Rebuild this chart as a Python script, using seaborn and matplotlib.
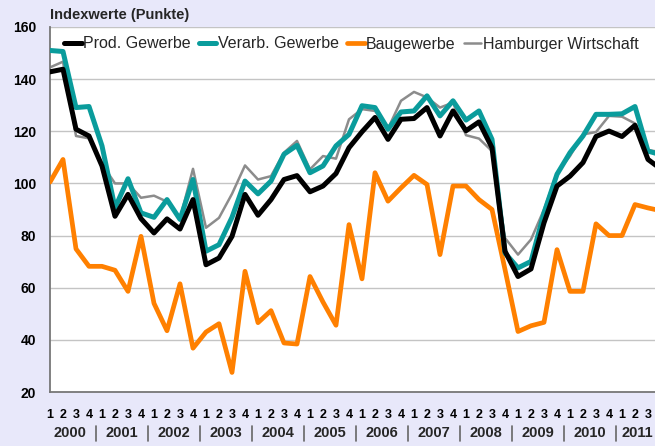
import matplotlib
matplotlib.use("Agg")
import matplotlib.pyplot as plt
import matplotlib.transforms as mtransforms
import pandas as pd
import seaborn as sns

# Quartale 2000 Q1 .. 2011 Q4 (rechter Rand ist im Original abgeschnitten)
quarters = ["1", "2", "3", "4"] * 11 + ["1", "2", "3"]
years = [str(y) for y in range(2000, 2012)]

prod_gewerbe = [142.8, 143.8, 120.8, 118.2, 106.7, 87.4, 95.8, 86.5, 81.0, 86.4, 82.5, 93.8,
                68.8, 71.4, 79.7, 95.8, 87.8, 93.8, 101.5, 103.0, 96.8, 99.0, 103.8, 113.7,
                119.8, 125.3, 116.9, 124.6, 124.9, 129.1, 118.2, 127.8, 120.2, 123.6, 113.7, 74.0,
                64.3, 67.2, 84.9, 99.0, 102.8, 108.0, 118.0, 120.1, 118.0, 122.3, 109.2, 105.5]
verarb_gewerbe = [151.0, 150.6, 129.1, 129.5, 114.4, 90.6, 101.8, 88.7, 87.0, 93.8, 86.2, 101.5,
                  74.0, 76.5, 87.0, 100.9, 96.0, 100.9, 111.2, 114.6, 104.1, 106.7, 114.4, 118.8,
                  129.8, 129.1, 120.8, 127.4, 127.8, 133.6, 125.9, 131.7, 124.3, 127.8, 116.9, 73.3,
                  67.6, 70.1, 88.7, 103.5, 111.8, 118.2, 126.5, 126.5, 126.7, 129.5, 112.4, 111.0]
baugewerbe = [100.5, 109.2, 74.9, 68.2, 68.2, 66.7, 58.6, 79.7, 54.0, 43.5, 61.5, 36.8,
              43.0, 46.2, 27.5, 66.3, 46.6, 51.2, 38.8, 38.4, 64.3, 54.5, 45.6, 84.2,
              63.4, 104.1, 93.2, 98.3, 103.1, 99.6, 72.7, 99.0, 99.0, 93.8, 90.0, 67.0,
              43.2, 45.4, 46.7, 74.6, 58.6, 58.6, 84.5, 80.0, 80.0, 91.9, 90.6, 89.5]
hamburger_wirtschaft = [144.5, 146.7, 118.2, 117.3, 107.5, 100.0, 100.0, 94.5, 95.3, 93.0, 86.5, 105.6,
                        83.0, 86.8, 96.0, 106.9, 101.5, 102.8, 111.8, 116.3, 105.4, 110.5, 109.5, 124.6,
                        128.5, 127.8, 121.0, 131.7, 135.1, 133.0, 129.1, 131.0, 118.5, 117.2, 112.4, 79.1,
                        72.7, 78.5, 90.0, 104.1, 110.5, 118.8, 119.7, 125.9, 125.6, 123.0, 112.8, 112.0]

series = ["Prod. Gewerbe", "Verarb. Gewerbe", "Baugewerbe", "Hamburger Wirtschaft"]
colors = {"Prod. Gewerbe": "#000000", "Verarb. Gewerbe": "#0A9C9C",
          "Baugewerbe": "#FF8000", "Hamburger Wirtschaft": "#8C8C8C"}
widths = {"Prod. Gewerbe": 3.6, "Verarb. Gewerbe": 3.6,
          "Baugewerbe": 3.4, "Hamburger Wirtschaft": 1.8}
layers = {"Prod. Gewerbe": 5, "Verarb. Gewerbe": 4,
          "Baugewerbe": 3, "Hamburger Wirtschaft": 2}

n = len(prod_gewerbe)
df = pd.DataFrame({
    "pos": list(range(n)) * 4,
    "wert": prod_gewerbe + verarb_gewerbe + baugewerbe + hamburger_wirtschaft,
    "reihe": [s for s in series for _ in range(n)],
})

BG = "#E8E8FA"
sns.set_theme(style="white")
plt.rcParams["font.family"] = ["Liberation Sans", "DejaVu Sans"]

fig = plt.figure(figsize=(6.55, 4.46), dpi=100, facecolor=BG)
ax = fig.add_axes([50 / 655, 54 / 446, 611 / 655, 365 / 446])
ax.set_facecolor("white")

for name in series:
    sub = df[df["reihe"] == name]
    sns.lineplot(data=sub, x="pos", y="wert", ax=ax, color=colors[name],
                 linewidth=widths[name], label=name, zorder=layers[name])

ax.set_xlim(0, n - 1)
ax.set_ylim(20, 160)
ax.set_yticks(range(20, 161, 20))
ax.set_xticks(range(n))
# letztes Quartal liegt ausserhalb des sichtbaren Bereichs, ohne Beschriftung
ax.set_xticklabels(quarters + [""] * (n - len(quarters)))
ax.set_xlabel("")
ax.set_ylabel("")
for lab in ax.get_yticklabels():
    lab.set_fontweight("bold")
    lab.set_fontsize(10)
for lab in ax.get_xticklabels():
    lab.set_fontweight("bold")
    lab.set_fontsize(9)

ax.yaxis.grid(True, color="#C4C4C4", linewidth=1.0)
ax.set_axisbelow(True)
ax.tick_params(axis="y", length=0, pad=10, colors="black")
ax.tick_params(axis="x", direction="out", length=5, width=1, color="#555555",
               pad=7, labelcolor="black")
for side in ["top", "right"]:
    ax.spines[side].set_visible(False)
for side in ["left", "bottom"]:
    ax.spines[side].set_color("#777777")
    ax.spines[side].set_linewidth(1.3)

# Jahreszahlen und Trennstriche unter der Achse
trans = mtransforms.blended_transform_factory(ax.transData, fig.transFigure)
for i, yr in enumerate(years):
    xpos = i * 4 + 1.5 if i < len(years) - 1 else i * 4 + 1.15
    fig.text(xpos, 1 - 433 / 446, yr, transform=trans, ha="center", va="center",
             fontsize=10.5, fontweight="bold")
for i in range(1, len(years)):
    ax.plot([i * 4 - 0.5] * 2, [1 - 426 / 446, 1 - 441 / 446], transform=trans,
            color="#666666", linewidth=1.2, clip_on=False)

fig.text(50 / 655, 1 - 15 / 446, "Indexwerte (Punkte)", fontsize=10.5,
         fontweight="bold", va="center", ha="left")

handles, labels = ax.get_legend_handles_labels()
order = [labels.index(s) for s in series]
leg = ax.legend([handles[i] for i in order], [labels[i] for i in order],
                loc="center left", bbox_to_anchor=(64 / 655, 1 - 44 / 446),
                bbox_transform=fig.transFigure, ncol=4, frameon=False,
                fontsize=11.5, handlelength=1.1, handletextpad=0.1,
                columnspacing=0.5, borderpad=0, borderaxespad=0)

fig.savefig("out.png", dpi=100, facecolor=BG)
